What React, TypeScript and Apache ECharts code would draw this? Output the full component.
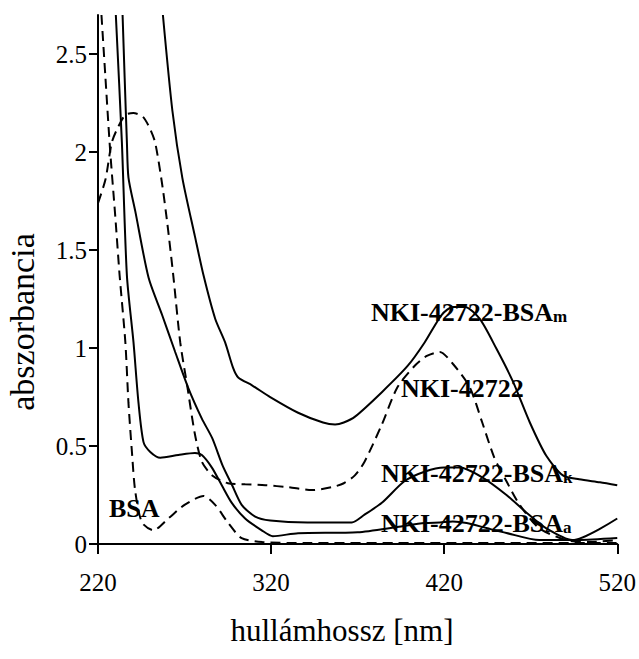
import React, { useEffect, useRef } from "react";
import * as echarts from "echarts";

// wavelength [nm], absorbance pairs
const bsaM: [number, number][] = [
  [257.5, 2.7], [263, 2.21], [268.7, 1.87], [276, 1.57], [281, 1.37], [287.7, 1.15],
  [293.4, 1.03], [298, 0.9], [301, 0.85], [309, 0.81], [319.5, 0.75], [335.6, 0.67],
  [350, 0.62], [357, 0.61], [362, 0.62], [368.5, 0.65], [384, 0.775], [399, 0.91],
  [408.8, 1.03], [418.6, 1.17], [425, 1.21], [432, 1.21], [440.5, 1.15], [450, 1.0],
  [459.7, 0.83], [469.5, 0.62], [479, 0.45], [488.6, 0.35], [498, 0.33], [510, 0.315],
  [520, 0.3],
];

const nki: [number, number][] = [
  [220, 1.74], [224.3, 1.86], [228, 2.05], [231.7, 2.13], [235.8, 2.19], [240.4, 2.2],
  [246, 2.18], [250, 2.12], [253, 2.05], [257, 1.84], [260, 1.64], [263.5, 1.37],
  [267.5, 1.03], [271.5, 0.81], [276, 0.56], [280, 0.42], [286, 0.35], [295, 0.31],
  [305, 0.305], [316.6, 0.3], [330, 0.29], [343.6, 0.275], [355, 0.29], [362, 0.31],
  [368.4, 0.35], [374, 0.42], [384, 0.61], [393, 0.8], [403, 0.91], [410, 0.96],
  [417.5, 0.98], [425, 0.92], [434.8, 0.8], [442, 0.62], [449, 0.44], [456, 0.32],
  [463.6, 0.2], [475, 0.08], [490.6, 0.02], [504, 0.01], [520, 0.02],
];

const bsaK: [number, number][] = [
  [234.2, 2.7], [235.4, 2.38], [236.7, 2.05], [237.6, 1.87], [241.5, 1.7], [249.2, 1.36],
  [257, 1.17], [264.6, 0.98], [272, 0.8], [280, 0.64], [286, 0.54], [292, 0.4],
  [297.5, 0.3], [303, 0.2], [310.8, 0.14], [319.5, 0.12], [341, 0.11], [366.6, 0.11],
  [374, 0.15], [384, 0.21], [397, 0.32], [409, 0.37], [420, 0.39], [429, 0.39],
  [442, 0.34], [456, 0.25], [467.6, 0.16], [479, 0.08], [494, 0.02], [520, 0.13],
];

const bsaA: [number, number][] = [
  [230.3, 2.7], [233.8, 2.05], [236.7, 1.37], [240.5, 1.03], [243.4, 0.72], [246.3, 0.52],
  [250.2, 0.47], [256, 0.44], [266.4, 0.454], [276, 0.464], [280, 0.454], [285.8, 0.39],
  [291.5, 0.3], [297.3, 0.21], [305, 0.13], [314.6, 0.07], [321, 0.04], [335.6, 0.055],
  [370, 0.06], [393, 0.087], [408.8, 0.107], [417.5, 0.11], [425, 0.115], [433, 0.107],
  [445, 0.08], [456, 0.056], [475, 0.02], [497, 0.02], [520, 0.03],
];

const bsa: [number, number][] = [
  [222, 2.7], [224.3, 2.38], [227, 2.01], [230, 1.67], [232.5, 1.37], [235.8, 1.03],
  [237.6, 0.72], [239.6, 0.47], [241.5, 0.27], [245.4, 0.11], [252, 0.07], [260.6, 0.13],
  [270, 0.2], [281, 0.245], [287.7, 0.2], [295, 0.11], [303, 0.03], [315, 0.01],
  [340, 0.005], [400, 0.005], [520, 0.005],
];

const xTicks = [220, 320, 420, 520];
const yTicks = [0, 0.5, 1, 1.5, 2, 2.5];

const FONT = "'Liberation Serif', 'Times New Roman', serif";

export default function App() {
  const ref = useRef<HTMLDivElement>(null);
  useEffect(() => {
    if (!ref.current) return;
    const chart = echarts.init(ref.current, undefined, { renderer: "svg" });
    const solid = { color: "#000", width: 2, type: "solid" as const };
    const dashed = { color: "#000", width: 2, type: [10, 6] as any };
    const mk = (name: string, data: [number, number][], ls: any) => ({
      name,
      type: "line",
      data,
      symbol: "none",
      smooth: 0.25,
      lineStyle: ls,
      clip: true,
      z: 3,
    });
    const rich = {
      b: { fontSize: 26, fontWeight: "bold", fontFamily: FONT, fill: "#000", color: "#000" },
      s: { fontSize: 17, fontWeight: "bold", fontFamily: FONT, fill: "#000", color: "#000", verticalAlign: "bottom" },
    };
    const label = (x: number, y: number, text: string) => ({
      type: "text",
      x,
      y,
      z: 10,
      style: { text, rich, align: "left", verticalAlign: "middle", fill: "#000" },
    });
    chart.setOption({
      animation: false,
      backgroundColor: "#fff",
      grid: { left: 98, right: 21, top: 15, bottom: 115, containLabel: false },
      xAxis: {
        type: "value",
        min: 220,
        max: 520,
        interval: 100,
        axisLine: { show: true, lineStyle: { color: "#000", width: 2 } },
        axisTick: { show: true, inside: false, length: 10, lineStyle: { color: "#000", width: 2 }, customValues: xTicks },
        axisLabel: { color: "#000", fontFamily: FONT, fontSize: 25, margin: 26, customValues: xTicks },
        splitLine: { show: false },
      },
      yAxis: {
        type: "value",
        min: 0,
        max: 2.7,
        interval: 0.5,
        axisLine: { show: true, onZero: false, lineStyle: { color: "#000", width: 2 } },
        axisTick: { show: true, inside: false, length: 9, lineStyle: { color: "#000", width: 2 }, customValues: yTicks },
        axisLabel: { color: "#000", fontFamily: FONT, fontSize: 25, margin: 11, customValues: yTicks },
        splitLine: { show: false },
      },
      series: [
        mk("NKI-42722-BSAm", bsaM, solid),
        mk("NKI-42722", nki, dashed),
        mk("NKI-42722-BSAk", bsaK, solid),
        mk("NKI-42722-BSAa", bsaA, solid),
        mk("BSA", bsa, dashed),
      ],
      graphic: [
        {
          type: "text",
          x: 342,
          y: 630,
          style: { text: "hullámhossz [nm]", font: `31px ${FONT}`, fill: "#000", align: "center", verticalAlign: "middle" },
        },
        {
          type: "text",
          x: 22,
          y: 322,
          rotation: Math.PI / 2,
          style: { text: "abszorbancia", font: `34px ${FONT}`, fill: "#000", align: "center", verticalAlign: "middle" },
        },
        label(371, 312, "{b|NKI-42722-BSA}{s|m}"),
        label(401, 388, "{b|NKI-42722}"),
        label(381, 473, "{b|NKI-42722-BSA}{s|k}"),
        label(381, 523, "{b|NKI-42722-BSA}{s|a}"),
        label(109, 508, "{b|BSA}"),
      ],
    });
    return () => chart.dispose();
  }, []);
  return (
    <div
      ref={ref}
      style={{ position: "absolute", left: 0, top: 0, width: 639, height: 659, background: "#fff" }}
    />
  );
}
